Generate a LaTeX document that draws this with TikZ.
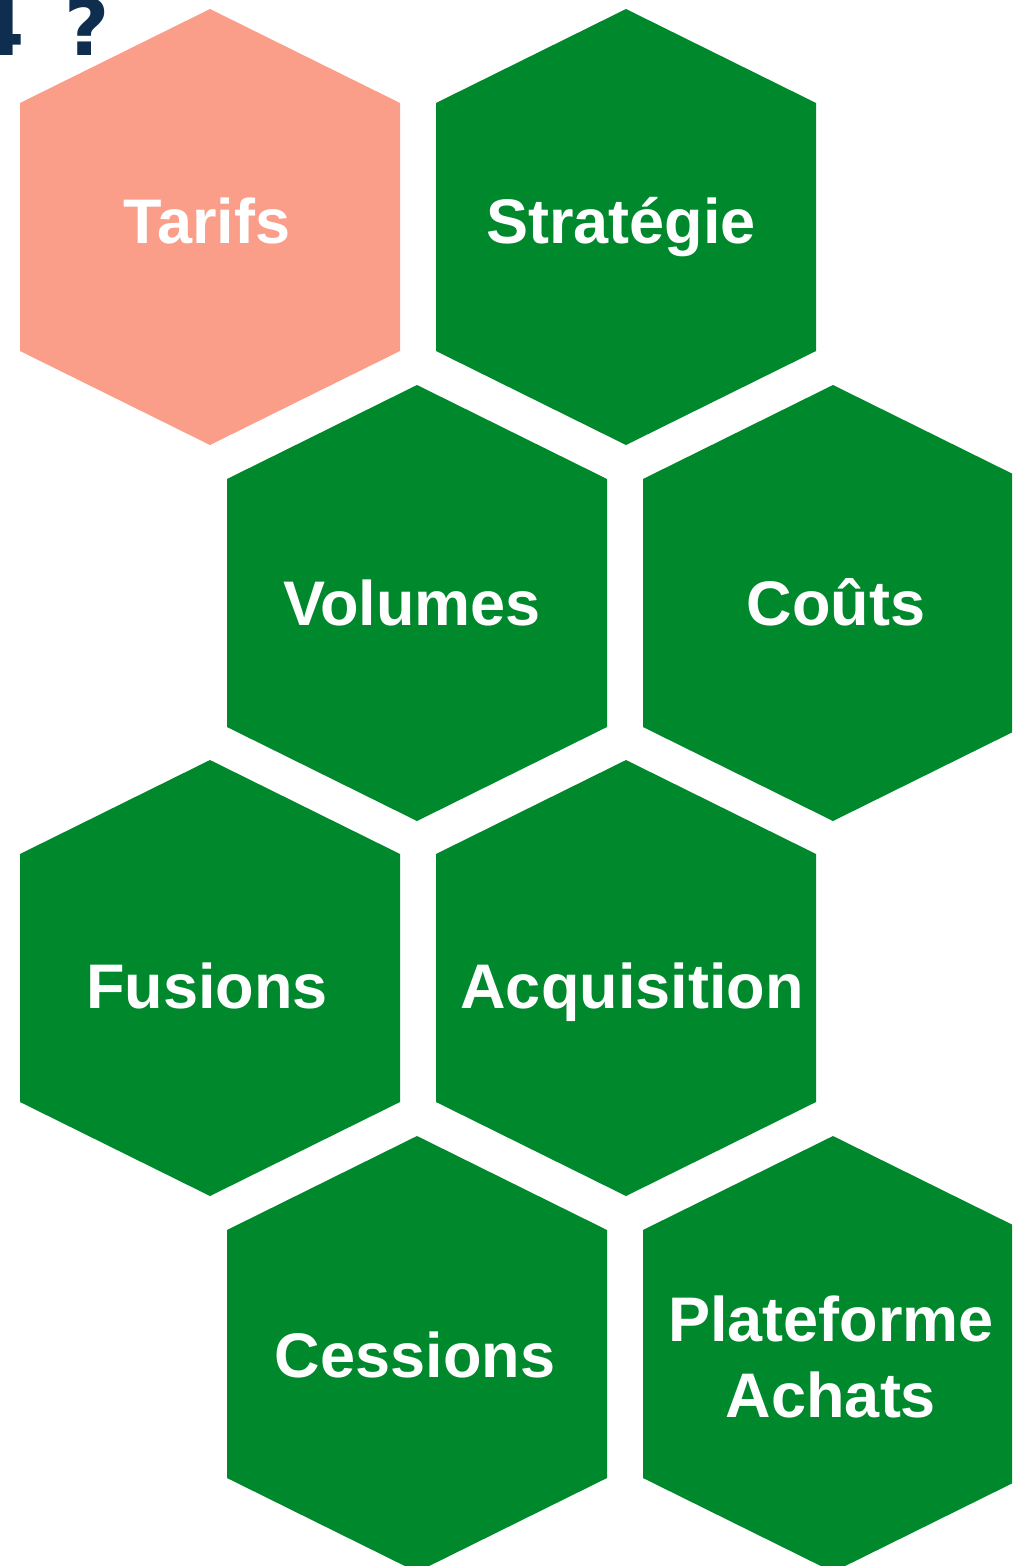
\documentclass[tikz,border=0pt]{standalone}
\usepackage{fontspec}
\setmainfont{Liberation Sans}
\newfontfamily\titlefont{DejaVu Sans}
\definecolor{hgreen}{RGB}{0,136,45}
\definecolor{hsalmon}{RGB}{250,158,138}
\definecolor{hnavy}{RGB}{14,45,79}
\newcommand\hexshape[1]{(#1) ++(0,-218) -- ++(190,94) -- ++(0,248) -- ++(-190,94) -- ++(-190,-94) -- ++(0,-248) -- cycle}
\tikzset{
  greenhex/.style={fill=hgreen},
  salmonhex/.style={fill=hsalmon},
  lbl/.style={text=white, align=center, inner sep=0pt, anchor=base, font=\fontsize{63}{76}\selectfont\bfseries},
  ttl/.style={text=hnavy, inner sep=0pt, anchor=base west, font=\titlefont\fontsize{78}{90}\selectfont\bfseries}
}
\begin{document}
\begin{tikzpicture}[x=1pt,y=-1pt]
\useasboundingbox (0,0) rectangle (1012,1566);
\clip (0,0) rectangle (1012,1566);
\coordinate (cT) at (210,227);
\coordinate (cS) at (626,227);
\coordinate (cV) at (417,603);
\coordinate (cC) at (833,603);
\coordinate (cF) at (210,978);
\coordinate (cA) at (626,978);
\coordinate (cE) at (417,1354);
\coordinate (cP) at (833,1354);
\fill[salmonhex] \hexshape{cT};
\fill[greenhex] \hexshape{cS};
\fill[greenhex] \hexshape{cV};
\fill[greenhex] \hexshape{cC};
\fill[greenhex] \hexshape{cF};
\fill[greenhex] \hexshape{cA};
\fill[greenhex] \hexshape{cE};
\fill[greenhex] \hexshape{cP};
\node[lbl] (tT) at (207,243) {Tarifs};
\node[lbl] (tS) at (621,243) {Stratégie};
\node[lbl] (tV) at (412,625) {Volumes};
\node[lbl] (tC) at (836,625) {Coûts};
\node[lbl] (tF) at (207,1008) {Fusions};
\node[lbl] (tA) at (632,1008) {Acquisition};
\node[lbl] (tE) at (415,1377) {Cessions};
\node[lbl, anchor=center] (tP) at (831,1357) {Plateforme\\Achats};
\node[ttl] (title) at (-30,55) {4\hspace{13pt} ?};
\end{tikzpicture}
\end{document}
